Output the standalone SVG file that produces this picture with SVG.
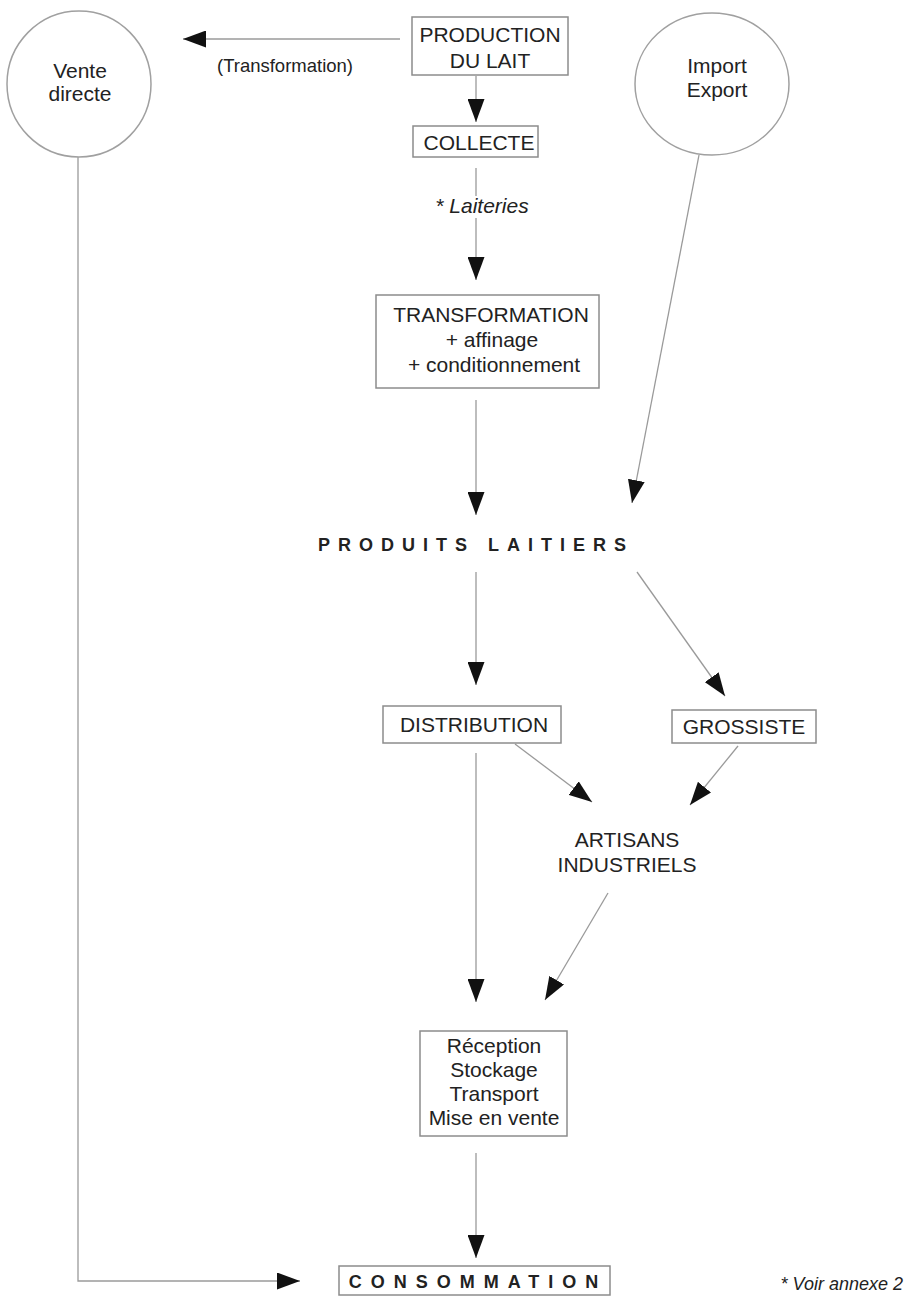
<svg xmlns="http://www.w3.org/2000/svg" width="907" height="1302" viewBox="0 0 907 1302">
<defs>
<marker id="ah" markerUnits="userSpaceOnUse" markerWidth="23" markerHeight="17" viewBox="0 0 23 17" refX="23" refY="8.5" orient="auto">
<path d="M0,0 L23,8.5 L0,17 z" fill="#111"/>
</marker>
</defs>
<style>
text{font-family:"Liberation Sans",Arial,sans-serif;font-size:21px;fill:#222;text-anchor:middle}
.box{fill:#fff;stroke:#8c8c8c;stroke-width:1.5}
.circ{fill:#fff;stroke:#a0a0a0;stroke-width:1.5}
.ln{stroke:#9a9a9a;stroke-width:1.3;fill:none;marker-end:url(#ah)}
.it{font-style:italic}
.big{font-weight:bold;font-size:18px;letter-spacing:8px}
</style>
<rect width="907" height="1302" fill="#fff"/>
<g id="connectors">
<line class="ln" x1="400" y1="39" x2="183" y2="39"/>
<line class="ln" x1="476" y1="76" x2="476" y2="122"/>
<line class="ln" x1="476" y1="168" x2="476" y2="280"/>
<line class="ln" x1="476" y1="400" x2="476" y2="515"/>
<line class="ln" x1="699" y1="155" x2="632" y2="503"/>
<line class="ln" x1="476" y1="572" x2="476" y2="685"/>
<line class="ln" x1="637" y1="572" x2="725" y2="696"/>
<line class="ln" x1="476" y1="753" x2="476" y2="1002"/>
<line class="ln" x1="515" y1="744" x2="592" y2="802"/>
<line class="ln" x1="738" y1="746" x2="690" y2="805"/>
<line class="ln" x1="608" y1="893" x2="545" y2="1000"/>
<line class="ln" x1="476" y1="1153" x2="476" y2="1258"/>
<polyline class="ln" points="78,156 78,1281 300,1281"/>
</g>
<g id="vente-directe">
<ellipse class="circ" cx="79" cy="84" rx="72" ry="73"/>
<text x="80" y="78">Vente</text>
<text x="80" y="101">directe</text>
</g>
<g id="import-export">
<ellipse class="circ" cx="712" cy="84" rx="77" ry="71"/>
<text x="717" y="73">Import</text>
<text x="717" y="97">Export</text>
</g>
<g id="label-transformation">
<text x="285" y="72" style="font-size:18.5px">(Transformation)</text>
</g>
<g id="production-du-lait">
<rect class="box" x="412" y="17" width="156" height="58"/>
<text x="490" y="42">PRODUCTION</text>
<text x="490" y="68">DU LAIT</text>
</g>
<g id="collecte">
<rect class="box" x="413" y="126" width="125" height="31"/>
<text x="479" y="150">COLLECTE</text>
</g>
<g id="label-laiteries">
<rect x="436" y="196" width="94" height="22" fill="#fff"/>
<text class="it" x="482" y="213">* Laiteries</text>
</g>
<g id="transformation">
<rect class="box" x="376" y="295" width="223" height="93"/>
<text x="491" y="322">TRANSFORMATION</text>
<text x="492" y="347">+ affinage</text>
<text x="494" y="372">+ conditionnement</text>
</g>
<g id="produits-laitiers">
<text class="big" x="476" y="551">PRODUITS LAITIERS</text>
</g>
<g id="distribution">
<rect class="box" x="383" y="706" width="178" height="37"/>
<text x="474" y="732">DISTRIBUTION</text>
</g>
<g id="grossiste">
<rect class="box" x="672" y="710" width="144" height="33"/>
<text x="744" y="734">GROSSISTE</text>
</g>
<g id="artisans-industriels">
<text x="627" y="847">ARTISANS</text>
<text x="627" y="872">INDUSTRIELS</text>
</g>
<g id="reception">
<rect class="box" x="420" y="1031" width="147" height="105"/>
<text x="494" y="1053">Réception</text>
<text x="494" y="1077">Stockage</text>
<text x="494" y="1101">Transport</text>
<text x="494" y="1125">Mise en vente</text>
</g>
<g id="consommation">
<rect class="box" x="339" y="1266" width="271" height="29"/>
<text class="big" x="478" y="1288" style="letter-spacing:9px">CONSOMMATION</text>
</g>
<g id="note">
<text class="it" x="903" y="1290" style="font-size:18px;text-anchor:end">* Voir annexe 2</text>
</g>
</svg>
